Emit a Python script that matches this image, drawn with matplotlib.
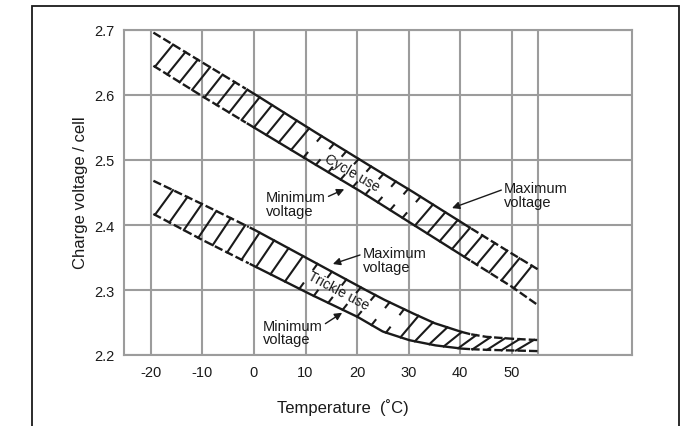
import numpy as np
import matplotlib
matplotlib.use("Agg")
import matplotlib.pyplot as plt
from matplotlib.patches import Rectangle

plt.rcParams['font.family'] = ['Liberation Sans', 'DejaVu Sans']

# ---- data ----
x_ticks = [-20, -10, 0, 10, 20, 30, 40, 50]
x_extra_grid = [55]
y_ticks = [2.2, 2.3, 2.4, 2.5, 2.6, 2.7]

cycle_temp = [-19.5, -10, 0, 10, 20, 30, 40, 50, 55]
cycle_max = [2.696, 2.650, 2.602, 2.552, 2.503, 2.455, 2.405, 2.356, 2.332]
cycle_min = [2.645, 2.598, 2.550, 2.502, 2.455, 2.405, 2.355, 2.305, 2.277]
cycle_solid = [-1.5, 42]

trickle_temp = [-19.5, -10, 0, 10, 20, 25, 30, 35, 40, 42, 45, 50, 55]
trickle_max = [2.468, 2.432, 2.393, 2.350, 2.307, 2.286, 2.267, 2.249, 2.236, 2.232, 2.228, 2.225, 2.223]
trickle_min = [2.417, 2.377, 2.337, 2.297, 2.259, 2.236, 2.223, 2.215, 2.210, 2.209, 2.208, 2.207, 2.206]
trickle_solid = [-1.0, 42]

GRID = '#9c9c9c'
INK = '#1a1a1a'

fig = plt.figure(figsize=(6.99, 4.27), dpi=100)
ax = fig.add_axes([124/699, 71/427, 508/699, 325/427])
ax.set_xlim(-25.2, 73.3)
ax.set_ylim(2.2, 2.7)
ax.set_xticks(x_ticks)
ax.set_xticklabels([str(t) for t in x_ticks])
ax.set_yticks(y_ticks)
ax.set_yticklabels([f"{v:.1f}" for v in y_ticks])
ax.tick_params(length=0, labelsize=10.5, pad=7, colors=INK)
ax.grid(True, color=GRID, lw=1.5)
for xv in x_extra_grid:
    ax.axvline(xv, color=GRID, lw=1.5, zorder=0.5)
ax.set_axisbelow(True)
for s in ax.spines.values():
    s.set_color(GRID)
    s.set_linewidth(1.5)


def draw_edge(T, V, solid):
    t = np.linspace(T[0], T[-1], 400)
    v = np.interp(t, T, V)
    a, b = solid
    m1 = t <= a
    m2 = (t >= a) & (t <= b)
    m3 = t >= b
    ax.plot(t[m1], v[m1], color=INK, lw=1.7, dashes=(3.6, 1.3), solid_capstyle='butt')
    ax.plot(t[m2], v[m2], color=INK, lw=1.7, solid_capstyle='butt')
    ax.plot(t[m3], v[m3], color=INK, lw=1.7, dashes=(3.6, 1.3), solid_capstyle='butt')


def draw_hatch(T, lo, hi, step, d, gap, frac=0.22):
    for t in np.arange(T[0] + 0.3, T[-1] - d + 0.01, step):
        x0, y0 = t, np.interp(t, T, lo)
        x1, y1 = t + d, np.interp(t + d, T, hi)
        if gap[0] < t < gap[1]:
            ax.plot([x0, x0 + frac * (x1 - x0)], [y0, y0 + frac * (y1 - y0)],
                    color=INK, lw=1.5)
            ax.plot([x1 - frac * (x1 - x0), x1], [y1 - frac * (y1 - y0), y1],
                    color=INK, lw=1.5)
        else:
            ax.plot([x0, x1], [y0, y1], color=INK, lw=1.5)


draw_edge(cycle_temp, cycle_max, cycle_solid)
draw_edge(cycle_temp, cycle_min, cycle_solid)
draw_hatch(cycle_temp, cycle_min, cycle_max, 2.4, 3.5, (9, 29))

draw_edge(trickle_temp, trickle_max, trickle_solid)
draw_edge(trickle_temp, trickle_min, trickle_solid)
draw_hatch(trickle_temp, trickle_min, trickle_max, 2.8, 3.5, (7, 26))

# band labels
ax.text(19, 2.481, 'Cycle use', rotation=-30, ha='center', va='center',
        fontsize=10, color=INK, rotation_mode='anchor')
ax.text(16.3, 2.299, 'Trickle use', rotation=-28, ha='center', va='center',
        fontsize=10, color=INK, rotation_mode='anchor')

arrow = dict(arrowstyle='-|>', color=INK, lw=1.0, mutation_scale=11, shrinkA=0, shrinkB=0)
ax.annotate('Minimum\nvoltage', xy=(17.5, 2.455), xytext=(2.3, 2.432),
            ha='left', va='center', fontsize=10.5, color=INK, linespacing=0.95,
            arrowprops=dict(arrow, relpos=(0.98, 0.72)))
ax.annotate('Maximum\nvoltage', xy=(38.4, 2.426), xytext=(48.5, 2.446),
            ha='left', va='center', fontsize=10.5, color=INK, linespacing=0.95,
            arrowprops=dict(arrow, relpos=(0.0, 0.72)))
ax.annotate('Maximum\nvoltage', xy=(15.3, 2.34), xytext=(21.1, 2.346),
            ha='left', va='center', fontsize=10.5, color=INK, linespacing=0.95,
            arrowprops=dict(arrow, relpos=(0.0, 0.72)))
ax.annotate('Minimum\nvoltage', xy=(17.1, 2.265), xytext=(1.7, 2.235),
            ha='left', va='center', fontsize=10.5, color=INK, linespacing=0.95,
            arrowprops=dict(arrow, relpos=(0.98, 0.72)))

fig.text(343/699, 1 - 408/427, 'Temperature  (˚C)', ha='center', va='center',
         fontsize=12, color=INK)
fig.text(80/699, 1 - 193/427, 'Charge voltage / cell', rotation=90,
         ha='center', va='center', fontsize=12, color=INK)

fig.add_artist(Rectangle((32/699, -0.05), (679 - 32)/699, 1 - 7/427 + 0.05,
                         transform=fig.transFigure, fill=False, lw=1.3,
                         ec=INK, clip_on=False))

fig.savefig('out.png', dpi=100)
